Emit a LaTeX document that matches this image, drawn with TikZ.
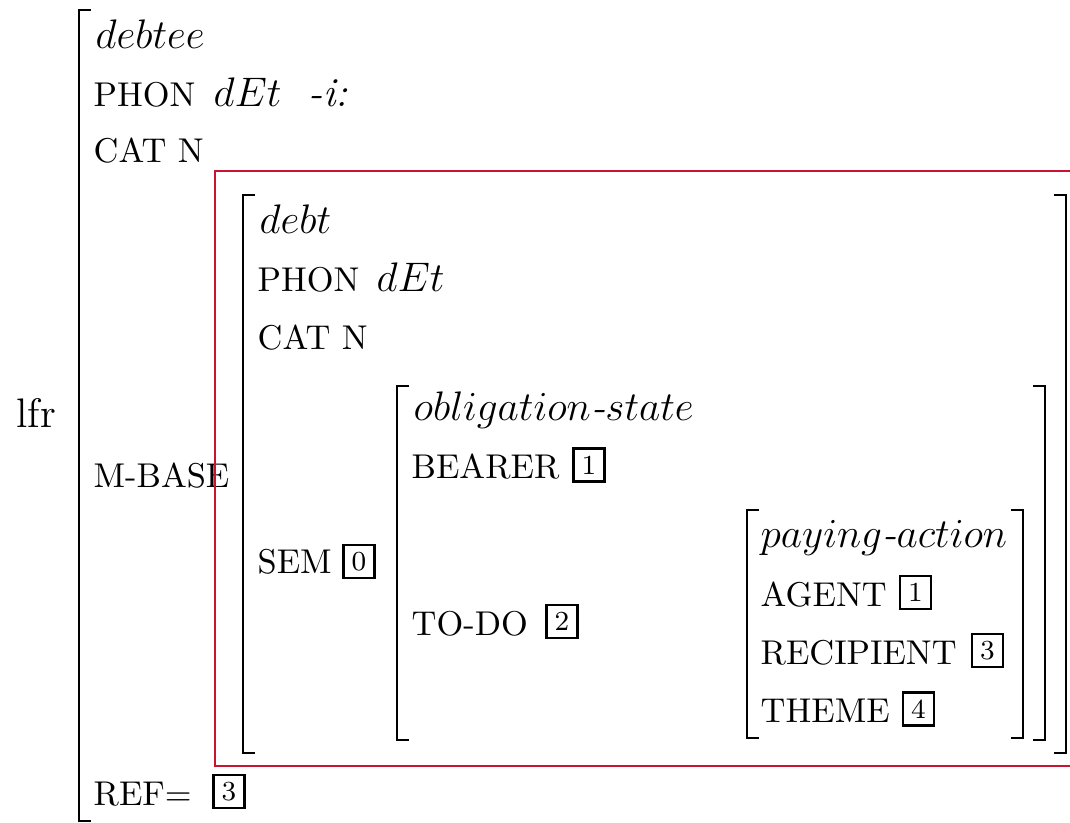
\RequirePackage{fix-cm}
\documentclass[tikz,border=0pt]{standalone}
\usepackage{fontspec}
\usepackage{tikz}
\definecolor{rouge}{RGB}{200,20,50}

\begin{document}
\begin{tikzpicture}[x=0.5pt,y=-0.5pt]
% Styles
\tikzstyle{crochet}=[line width=1.4pt]
\tikzstyle{cadre}=[rouge,line width=1pt]
\tikzstyle{texte}=[anchor=base west,inner sep=0pt,scale=1.72,transform shape]
\tikzstyle{attribut}=[texte,font=\normalsize]
\tikzstyle{sorte}=[texte,font=\large]
\tikzstyle{etiquette}=[draw,line width=1.1pt,inner sep=0pt,minimum width=9pt,minimum height=9.6pt,scale=1.72,transform shape,font=\footnotesize]
% Dimensions
\def\serif{12}
\def\colA{93}
\def\colB{257}
\def\colC{411}
\def\colD{760}
\useasboundingbox (0,0) rectangle (1070,823);
% Niveau 1 : lfr
\node[sorte] (lfr) at (16,427) {lfr};
\node[sorte] (t1) at (\colA+2,49) {$debtee$};
\node[attribut] (p1) at (\colA,107) {PHON};
\node[sorte] (v1) at (213,107) {$dEt$};
\node[sorte] (s1) at (308,107) {\textit{-i:}};
\node[attribut] (c1) at (\colA,163) {CAT N};
\node[attribut] (m1) at (\colA,487) {M-BASE};
\node[attribut] (r1) at (\colA,805) {REF=};
\node[etiquette] (e1) at (229,791.5) {3};
% Niveau 2 : M-BASE
\node[sorte] (t2) at (\colB+2,234) {$debt$};
\node[attribut] (p2) at (\colB,292) {PHON};
\node[sorte] (v2) at (376,292) {$dEt$};
\node[attribut] (c2) at (\colB,350) {CAT N};
\node[attribut] (sem) at (\colB,573) {SEM};
\node[etiquette] (e0) at (359,561.5) {0};
% Niveau 3 : SEM
\node[sorte] (t3) at (\colC+2,420) {$obligation$\textit{-}$state$};
\node[attribut] (bea) at (\colC,478) {BEARER};
\node[etiquette] (e2) at (589,465) {1};
\node[attribut] (tod) at (\colC,635) {TO-DO};
\node[etiquette] (e3) at (562,621.5) {2};
% Niveau 4 : TO-DO
\node[sorte] (t4) at (\colD,547) {$paying$\textit{-}$action$};
\node[attribut] (age) at (\colD,606) {AGENT};
\node[etiquette] (e4) at (915.5,592.5) {1};
\node[attribut] (rec) at (\colD,664) {RECIPIENT};
\node[etiquette] (e5) at (987.5,650.5) {3};
\node[attribut] (the) at (\colD,722) {THEME};
\node[etiquette] (e6) at (918.5,709) {4};
% Encadrement
\draw[cadre] (1075,171) -- (215,171) -- (215,766) -- (1075,766);
% Crochets
\draw[crochet] (79+\serif,10) -- (79,10) -- (79,821) -- (79+\serif,821);
\draw[crochet] (243+\serif,195) -- (243,195) -- (243,753) -- (243+\serif,753);
\draw[crochet] (1066-\serif,195) -- (1066,195) -- (1066,753) -- (1066-\serif,753);
\draw[crochet] (397+\serif,386) -- (397,386) -- (397,740) -- (397+\serif,740);
\draw[crochet] (1045-\serif,386) -- (1045,386) -- (1045,740) -- (1045-\serif,740);
\draw[crochet] (747+\serif,510) -- (747,510) -- (747,738) -- (747+\serif,738);
\draw[crochet] (1023-\serif,510) -- (1023,510) -- (1023,738) -- (1023-\serif,738);
\end{tikzpicture}
\end{document}
